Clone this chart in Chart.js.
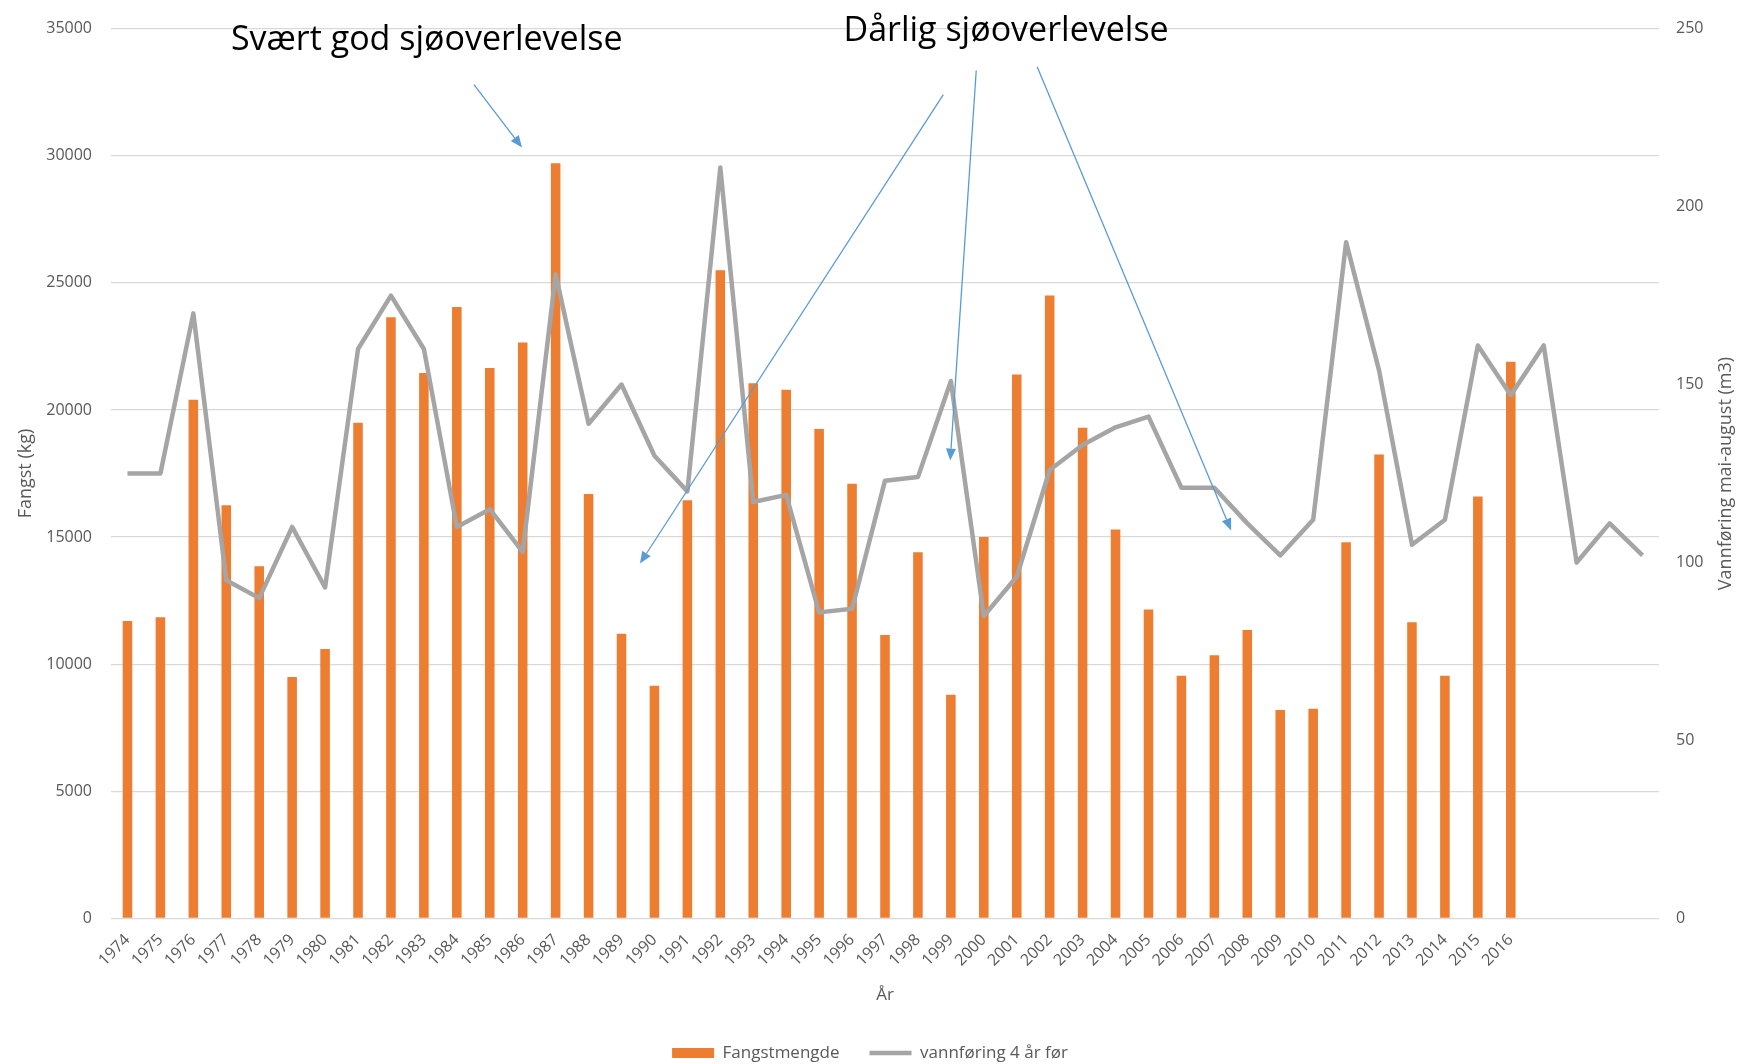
<!DOCTYPE html>
<html>
<head>
<meta charset="utf-8">
<script src="https://cdn.jsdelivr.net/npm/chart.js@4.4.1/dist/chart.umd.min.js"></script>
<style>
  html, body { margin: 0; padding: 0; background: #fff; }
  #wrap { width: 1740px; height: 1064px; position: relative; }
</style>
</head>
<body>
<div id="wrap"><canvas id="fangstChart"></canvas></div>
<script>
// Data lest av figuren
const aar = ['1974', '1975', '1976', '1977', '1978', '1979', '1980', '1981', '1982', '1983',
  '1984', '1985', '1986', '1987', '1988', '1989', '1990', '1991', '1992', '1993',
  '1994', '1995', '1996', '1997', '1998', '1999', '2000', '2001', '2002', '2003',
  '2004', '2005', '2006', '2007', '2008', '2009', '2010', '2011', '2012', '2013',
  '2014', '2015', '2016', '', '', '', ''];

// Fangst (kg), 1974-2016
const fangstmengde = [11700, 11850, 20400, 16250, 13850, 9500, 10600, 19500, 23650, 21450,
  24050, 21650, 22650, 29700, 16700, 11200, 9150, 16450, 25500, 21050,
  20800, 19250, 17100, 11150, 14400, 8800, 15000, 21400, 24500, 19300,
  15300, 12150, 9550, 10350, 11350, 8200, 8250, 14800, 18250, 11650,
  9550, 16600, 21900];

// Vannføring mai-august (m3), 4 år før
const vannforing = [125, 125, 170, 95, 90, 110, 93, 160, 175, 160,
  110, 115, 103, 181, 139, 150, 130, 120, 211, 117,
  119, 86, 87, 123, 124, 151, 85, 96, 126, 133,
  138, 141, 121, 121, 111, 102, 112, 190, 154, 105,
  112, 161, 147, 161, 100, 111, 102];

const venstreTicks = [0, 35000, 5000];
const hoyreTicks = [0, 250, 50];

const tekstFarge = '#595959';
const font = 'Open Sans';

// Tekster og piler, plassert i dataverdier (kategori-indeks, venstre akse)
const merkTekster = [
  { tekst: 'Svært god sjøoverlevelse', x: 3.14, y: 34170 },
  { tekst: 'Dårlig sjøoverlevelse', x: 21.74, y: 34520 }
];
const piler = [
  { fra: [10.52, 32800], til: [11.98, 30320] },
  { fra: [24.77, 32400], til: [15.56, 13960] },
  { fra: [25.77, 33350], til: [24.98, 18010] },
  { fra: [27.62, 33500], til: [33.51, 15260] }
];

const merknader = {
  id: 'merknader',
  afterDatasetsDraw(chart) {
    const { ctx, scales: { x, y, y1 } } = chart;
    ctx.save();
    ctx.strokeStyle = '#5B9BD5';
    ctx.fillStyle = '#5B9BD5';
    ctx.lineWidth = 1.3;
    piler.forEach(p => {
      const x0 = x.getPixelForValue(p.fra[0]), y0 = y.getPixelForValue(p.fra[1]);
      const x1 = x.getPixelForValue(p.til[0]), y1p = y.getPixelForValue(p.til[1]);
      const vinkel = Math.atan2(y1p - y0, x1 - x0);
      const len = 12, half = 5;
      const bx = x1 - len * Math.cos(vinkel), by = y1p - len * Math.sin(vinkel);
      ctx.beginPath();
      ctx.moveTo(x0, y0);
      ctx.lineTo(bx, by);
      ctx.stroke();
      ctx.beginPath();
      ctx.moveTo(x1, y1p);
      ctx.lineTo(bx + half * Math.sin(vinkel), by - half * Math.cos(vinkel));
      ctx.lineTo(bx - half * Math.sin(vinkel), by + half * Math.cos(vinkel));
      ctx.closePath();
      ctx.fill();
    });

    ctx.fillStyle = '#000';
    ctx.font = '34px "' + font + '"';
    ctx.textAlign = 'left';
    ctx.textBaseline = 'alphabetic';
    merkTekster.forEach(t => {
      ctx.fillText(t.tekst, x.getPixelForValue(t.x), y.getPixelForValue(t.y));
    });

    // Tittel for høyre akse (leses nedenfra og opp, som i Excel)
    ctx.fillStyle = tekstFarge;
    ctx.font = '18px "' + font + '"';
    ctx.textAlign = 'center';
    ctx.textBaseline = 'middle';
    ctx.translate(y1.right - 14, (y1.top + y1.bottom) / 2);
    ctx.rotate(-Math.PI / 2);
    ctx.fillText('Vannføring mai-august (m3)', 0, 0);
    ctx.restore();
  }
};

const ctx = document.getElementById('fangstChart').getContext('2d');

const chart = new Chart(ctx, {
  type: 'bar',
  data: {
    labels: aar,
    datasets: [{
      type: 'bar',
      label: 'Fangstmengde',
      data: fangstmengde,
      backgroundColor: '#ED7D31',
      borderWidth: 0,
      barPercentage: 0.29,
      categoryPercentage: 1,
      yAxisID: 'y',
      order: 1
    }, {
      type: 'line',
      label: 'vannføring 4 år før',
      data: vannforing,
      borderColor: '#A5A5A5',
      backgroundColor: '#A5A5A5',
      borderWidth: 4.5,
      borderJoinStyle: 'round',
      pointRadius: 0,
      tension: 0,
      yAxisID: 'y1',
      order: 0
    }]
  },
  options: {
    responsive: true,
    maintainAspectRatio: false,
    animation: false,
    // negativ bunnpolstring skyver forklaringen helt ned mot kanten
    layout: { padding: { top: 27, left: 0, right: 0, bottom: -7.5 } },
    plugins: {
      tooltip: { enabled: false },
      legend: {
        position: 'bottom',
        labels: {
          usePointStyle: true,
          pointStyleWidth: 42,
          boxHeight: 10,
          padding: 30,
          color: tekstFarge,
          font: { family: font, size: 17 },
          sort: (a, b) => a.datasetIndex - b.datasetIndex,
          generateLabels(chart) {
            const items = Chart.defaults.plugins.legend.labels.generateLabels(chart);
            items.forEach(it => { it.pointStyle = it.datasetIndex === 0 ? 'rect' : 'line'; });
            return items;
          }
        }
      }
    },
    scales: {
      x: {
        grid: { display: false },
        border: { display: false },
        ticks: {
          color: tekstFarge,
          font: { family: font, size: 16 },
          maxRotation: 45,
          minRotation: 45,
          autoSkip: false,
          padding: 4
        },
        title: {
          display: true,
          text: 'År',
          color: tekstFarge,
          font: { family: font, size: 17 },
          padding: { top: 0, bottom: 9 }
        },
        afterFit(s) { s.height = 96; }
      },
      y: {
        position: 'left',
        min: venstreTicks[0],
        max: venstreTicks[1],
        ticks: {
          stepSize: venstreTicks[2],
          padding: 19,
          color: tekstFarge,
          font: { family: font, size: 16 },
          callback: v => String(v)
        },
        grid: { color: '#D9D9D9', lineWidth: 1.3, drawTicks: false },
        border: { display: false },
        title: {
          display: true,
          text: 'Fangst (kg)',
          color: tekstFarge,
          font: { family: font, size: 18 },
          padding: { top: 15, bottom: 0 }
        },
        afterFit(s) { s.width = 111; }
      },
      y1: {
        position: 'right',
        min: hoyreTicks[0],
        max: hoyreTicks[1],
        ticks: {
          stepSize: hoyreTicks[2],
          padding: 17,
          color: tekstFarge,
          font: { family: font, size: 16 },
          callback: v => String(v)
        },
        grid: { display: false, drawTicks: false },
        border: { display: false },
        afterFit(s) { s.width = 81; }
      }
    }
  },
  plugins: [merknader]
});
</script>
</body>
</html>
